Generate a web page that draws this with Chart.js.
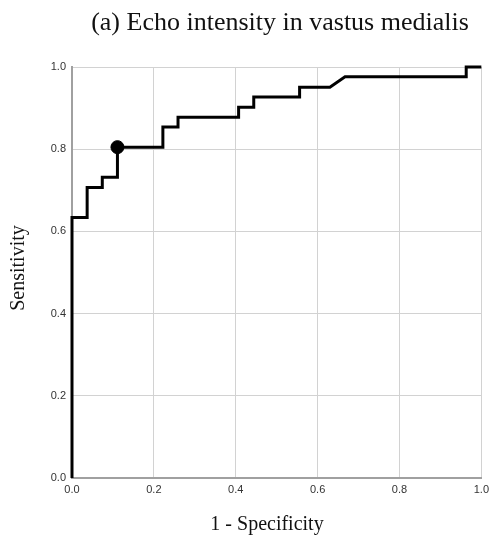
<!DOCTYPE html>
<html>
<head>
<meta charset="utf-8">
<script src="https://cdn.jsdelivr.net/npm/chart.js@4"></script>
<style>
  html, body { margin: 0; padding: 0; background: #fff; }
  #wrap { width: 494px; height: 542px; }
</style>
</head>
<body>
<div id="wrap"><canvas id="myChart" width="494" height="542"></canvas></div>
<script>
// curva ROC (escalones)
const fpr = [0, 0, 0.037, 0.037, 0.074, 0.074, 0.111, 0.111, 0.222, 0.222, 0.259, 0.259, 0.407, 0.407, 0.444, 0.444, 0.556, 0.556, 0.630, 0.667, 0.963, 0.963, 1.0];
const tpr = [0, 0.634, 0.634, 0.707, 0.707, 0.732, 0.732, 0.805, 0.805, 0.854, 0.854, 0.878, 0.878, 0.902, 0.902, 0.927, 0.927, 0.951, 0.951, 0.976, 0.976, 1.0, 1.0];
// punto de corte optimo
const cutoffX = [0.111];
const cutoffY = [0.805];
const tickValues = [0, 0.2, 0.4, 0.6, 0.8, 1.0];

const titleText = '(a) Echo intensity in vastus medialis';
const xTitle = '1 - Specificity';
const yTitle = 'Sensitivity';

// textos dibujados a mano para poder moverlos como en la figura
const textos = {
  id: 'textos',
  afterDraw(chart) {
    const c = chart.ctx;
    c.save();
    c.fillStyle = '#111';
    c.textAlign = 'center';
    c.textBaseline = 'middle';
    c.font = '26px "Liberation Serif"';
    c.fillText(titleText, 280, 23);
    c.font = '20px "Liberation Serif"';
    c.fillText(xTitle, 267, 525);
    c.translate(19, 268);
    c.rotate(-Math.PI / 2);
    c.fillText(yTitle, 0, 0);
    c.restore();
  }
};

var ctx = document.getElementById('myChart').getContext('2d');
new Chart(ctx, {
  type: 'scatter',
  data: {
    datasets: [{
      label: 'ROC',
      data: fpr.map((x, i) => ({ x: x, y: tpr[i] })),
      showLine: true,
      borderColor: '#000',
      borderWidth: 3,
      borderJoinStyle: 'miter',
      pointRadius: 0,
      tension: 0,
      clip: 4
    }, {
      label: 'Corte',
      data: cutoffX.map((x, i) => ({ x: x, y: cutoffY[i] })),
      backgroundColor: '#000',
      borderColor: '#000',
      pointRadius: 6.5,
      clip: false
    }]
  },
  options: {
    responsive: false,
    animation: false,
    layout: {
      padding: { top: 67, right: 12, bottom: 34, left: 0 }
    },
    plugins: {
      legend: { display: false },
      tooltip: { enabled: false },
      title: { display: false }
    },
    scales: {
      x: {
        type: 'linear',
        min: 0,
        max: 1,
        afterFit: s => { s.height = 30; },
        afterBuildTicks: s => { s.ticks = tickValues.map(v => ({ value: v })); },
        ticks: {
          padding: 5,
          color: '#333',
          font: { family: '"Liberation Sans"', size: 11 },
          callback: v => v.toFixed(1)
        },
        grid: { color: '#d2d2d2', lineWidth: 1, drawTicks: false },
        border: { color: '#a0a0a0', width: 2 }
      },
      y: {
        type: 'linear',
        min: 0,
        max: 1,
        afterFit: s => { s.width = 72; },
        afterBuildTicks: s => { s.ticks = tickValues.map(v => ({ value: v })); },
        ticks: {
          padding: 6,
          color: '#333',
          font: { family: '"Liberation Sans"', size: 11 },
          callback: v => v.toFixed(1)
        },
        grid: { color: '#d2d2d2', lineWidth: 1, drawTicks: false },
        border: { color: '#a0a0a0', width: 2 }
      }
    }
  },
  plugins: [textos]
});
</script>
</body>
</html>
